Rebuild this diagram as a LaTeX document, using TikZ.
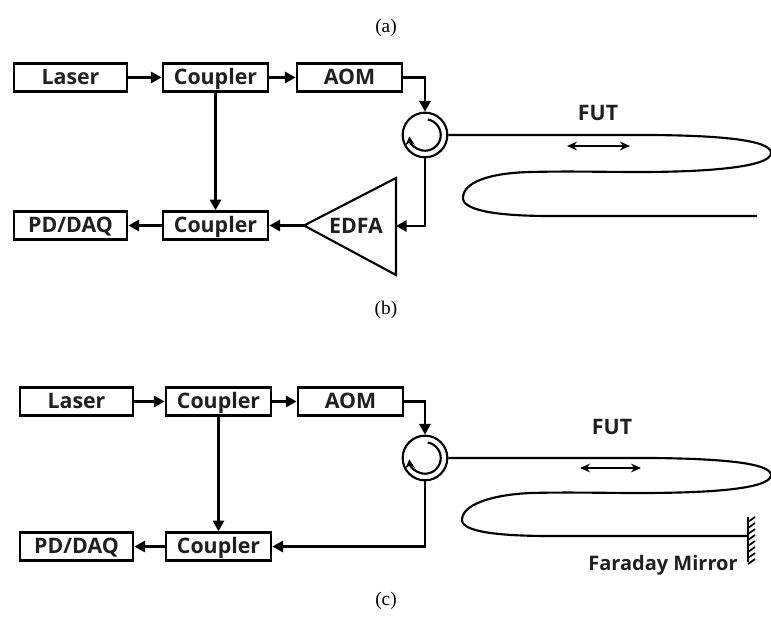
\documentclass[tikz,border=0pt]{standalone}
\usepackage{fontspec}
\setmainfont{Liberation Serif}
\newfontfamily\lab{Open Sans}
\usetikzlibrary{arrows.meta,calc}
\tikzset{
 x=0.75pt,y=-0.75pt,
 box/.style={draw=black,line width=1.9pt,rectangle,minimum height=21pt,inner sep=0pt,text height=10pt,text depth=0pt,font=\lab\bfseries\fontsize{16}{18}\selectfont,text=black!88},
 tag/.style={font=\lab\bfseries\fontsize{16}{18}\selectfont,text=black!88,inner sep=0pt},
 captxt/.style={font=\fontsize{14.5}{17}\selectfont,inner sep=0pt},
 wire/.style={line width=1.6pt,-{Triangle[length=8pt,width=8.5pt]}},
 plain/.style={line width=1.6pt},
 thinarrow/.style={line width=1.2pt,{Stealth[length=7.5pt,width=6.5pt]}-{Stealth[length=7.5pt,width=6.5pt]}},
 ring/.style={circle,draw=black,line width=1.6pt,minimum size=33.5pt,inner sep=0pt},
 turn/.style={line width=1.6pt,-{Stealth[length=6.5pt,width=7pt]}},
}
\begin{document}
\begin{tikzpicture}
\useasboundingbox (0,0) rectangle (771,624);
\node[captxt] (capa) at (386,28) {(a)};
\node[captxt] (capb) at (386,310) {(b)};
\node[captxt] (capc) at (386,601) {(c)};
% (a)
\node[box,minimum width=85pt] (la) at (70.5,77.5) {Laser};
\node[box,minimum width=79pt] (ca) at (215.5,77.5) {Coupler};
\node[box,minimum width=79pt] (aa) at (349.5,77.5) {AOM};
\node[box,minimum width=85pt] (pa) at (70.5,225.5) {PD/DAQ};
\node[box,minimum width=79pt] (da) at (215.5,225.5) {Coupler};
\node[ring] (ra) at (425,135) {};
\draw[turn] ($(ra.center)+(80:11.8pt)$) arc[start angle=80,end angle=-175,radius=11.8pt];
\draw[line width=1.6pt] (304,225.5) coordinate (ea) -- (396,178) -- (396,275) -- cycle;
\node[tag] (ta) at (356,226) {EDFA};
\draw[wire] (la) -- (ca);
\draw[wire] (ca) -- (aa);
\draw[wire] (ca) -- (da);
\draw[wire] (da) -- (pa);
\draw[wire] (ea) -- (da);
\draw[wire] (aa.east) -| (ra.north);
\coordinate (ia) at (396,226);
\draw[wire] (ra.south) |- (ia);
\node[tag] (fa) at (598,113) {FUT};
\coordinate (a1) at (567,146);
\coordinate (a2) at (630,146);
\draw[thinarrow] (a1) -- (a2);
\coordinate (e1) at (757,216);
\draw[plain] (ra.east) -- (650,135) .. controls (720,135.5) and (771,140) .. (771,153) .. controls (771,168) and (700,172) .. (640,172) .. controls (600,172) and (570,171) .. (530,172) .. controls (490,173) and (463,182) .. (463,198) .. controls (463,211) and (500,216) .. (550,216) -- (e1);
% (b)
\node[box,minimum width=85pt] (lb) at (76.5,401.5) {Laser};
\node[box,minimum width=79pt] (cb) at (218.5,401.5) {Coupler};
\node[box,minimum width=79pt] (ab) at (350.5,401.5) {AOM};
\node[box,minimum width=85pt] (pb) at (76.5,546.5) {PD/DAQ};
\node[box,minimum width=79pt] (db) at (218.5,546.5) {Coupler};
\node[ring] (rb) at (425,458) {};
\draw[turn] ($(rb.center)+(80:11.8pt)$) arc[start angle=80,end angle=-175,radius=11.8pt];
\draw[wire] (lb) -- (cb);
\draw[wire] (cb) -- (ab);
\draw[wire] (cb) -- (db);
\draw[wire] (db) -- (pb);
\draw[wire] (ab.east) -| (rb.north);
\draw[wire] (rb.south) |- (db.east);
\node[tag] (fb) at (612,427) {FUT};
\coordinate (b1) at (580,468);
\coordinate (b2) at (641,468);
\draw[thinarrow] (b1) -- (b2);
\coordinate (e2) at (748,536);
\draw[plain] (rb.east) -- (650,458) .. controls (720,458.5) and (771,463) .. (771,475) .. controls (771,490) and (700,493) .. (640,493) .. controls (600,493) and (570,492) .. (530,493) .. controls (490,495) and (462,505) .. (462,520) .. controls (462,532) and (500,536) .. (550,536) -- (e2);
\draw[plain] (748,517) -- (748,562);
\foreach \yy in {522,528,...,564} \draw[line width=1.3pt] (748,\yy) -- (755,\yy-5);
\node[tag,font=\lab\bfseries\fontsize{15}{18}\selectfont] (fm) at (663,565) {Faraday Mirror};
\end{tikzpicture}
\end{document}
